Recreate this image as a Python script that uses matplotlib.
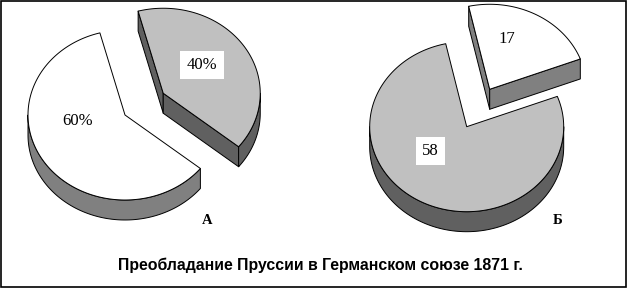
import numpy as np
import matplotlib
matplotlib.use('Agg')
import matplotlib.pyplot as plt
from matplotlib.patches import Polygon, Rectangle
from matplotlib.colors import to_rgb

# данные (порядок долей - по часовой стрелке от начального угла)
pie_a_values = [40, 60]
pie_a_labels = ['40%', '60%']
pie_a_colors = ['#C0C0C0', '#FFFFFF']
pie_a_explode = [0.47, 0.0]

pie_b_values = [17, 58]
pie_b_labels = ['17', '58']
pie_b_colors = ['#FFFFFF', '#C0C0C0']
pie_b_explode = [0.5, 0.0]

pie_names = ['А', 'Б']
title = 'Преобладание Пруссии в Германском союзе 1871 г.'

# геометрия в пикселях картинки (y вниз)
W, H = 627, 288
RX, RY, DEPTH = 97, 85, 20
SERIF = ['Liberation Serif', 'DejaVu Serif']


def rim(cx, cy, th):
    th = np.radians(th)
    return cx + RX * np.sin(th), cy - RY * np.cos(th)


def draw_pie3d(ax, cx, cy, values, colors, explode, start):
    total = float(sum(values))
    slices = []
    a0 = start
    for v, col, ex in zip(values, colors, explode):
        a1 = a0 + 360.0 * v / total
        mid = np.radians((a0 + a1) / 2)
        sx = cx + ex * RX * np.sin(mid)
        sy = cy - ex * RY * np.cos(mid)
        slices.append((sy, sx, a0, a1, col))
        a0 = a1
    # задние доли рисуем первыми
    for sy, sx, a0, a1, col in sorted(slices):
        dark = tuple(c * 0.5 for c in to_rgb(col))
        kw = dict(ec='black', lw=0.7, joinstyle='round')
        # радиальные стенки
        for ang, vis in ((a0, np.sin(np.radians(a0)) < 0), (a1, np.sin(np.radians(a1)) > 0)):
            if vis:
                px, py = rim(sx, sy, ang)
                ax.add_patch(Polygon([(sx, sy), (px, py), (px, py + DEPTH), (sx, sy + DEPTH)],
                                     fc=dark, **kw))
        # внешняя стенка (только передняя часть)
        f0, f1 = max(a0, 90), min(a1, 270)
        if f1 > f0:
            t = np.linspace(f0, f1, 120)
            xs, ys = rim(sx, sy, t)
            pts = list(zip(xs, ys)) + list(zip(xs[::-1], ys[::-1] + DEPTH))
            ax.add_patch(Polygon(pts, fc=dark, **kw))
        # верх
        t = np.linspace(a0, a1, 200)
        xs, ys = rim(sx, sy, t)
        ax.add_patch(Polygon([(sx, sy)] + list(zip(xs, ys)), fc=col, **kw))


fig = plt.figure(figsize=(W / 100, H / 100), dpi=100)
ax = fig.add_axes([0, 0, 1, 1])
ax.set_xlim(0, W)
ax.set_ylim(H, 0)
ax.axis('off')

draw_pie3d(ax, 125, 115, pie_a_values, pie_a_colors, pie_a_explode, -15)
draw_pie3d(ax, 466.7, 126.7, pie_b_values, pie_b_colors, pie_b_explode, -12.5)

# подписи долей
label_pos = [(202, 65), (78, 121), (507, 39), (430.5, 151)]
for (x, y), txt in zip(label_pos, pie_a_labels + pie_b_labels):
    ax.text(x, y, txt, family=SERIF, fontsize=12, ha='center', va='center',
            bbox=dict(fc='white', ec='none', pad=4.5))

for (x, y), txt in zip([(207, 220), (558, 220)], pie_names):
    ax.text(x, y, txt, family=SERIF, fontsize=10.5, fontweight='bold', ha='center', va='center')

ax.text(320, 265, title, family=['Liberation Sans', 'DejaVu Sans'], fontsize=11.4,
        fontweight='bold', ha='center', va='center')

ax.add_patch(Rectangle((0.6, 0.5), 625.4, 286, fill=False, ec='black', lw=1.2))

fig.savefig('out.png', dpi=100)
